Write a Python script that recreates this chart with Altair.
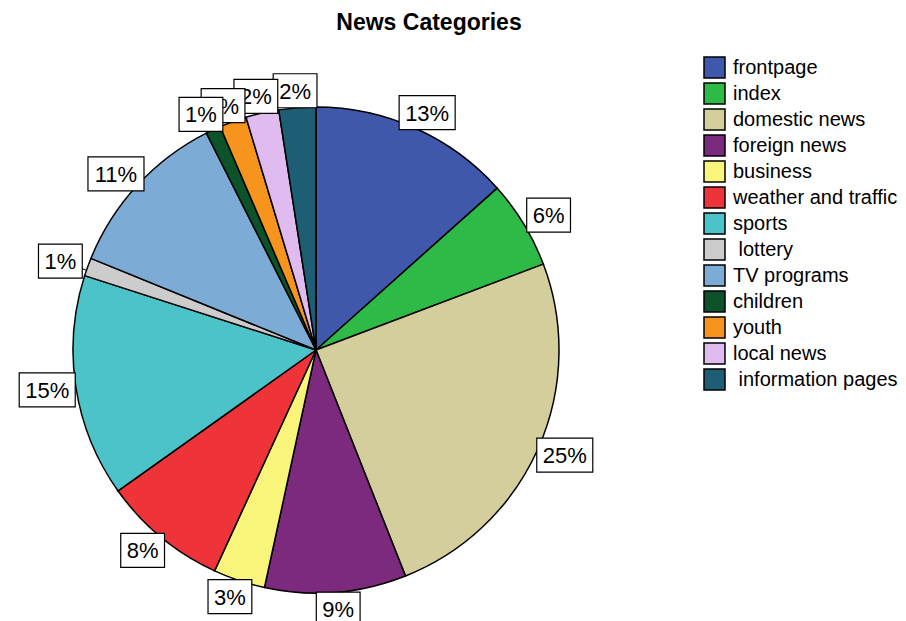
import altair as alt
import pandas as pd

categories = ["frontpage", "index", "domestic news", "foreign news", "business",
              "weather and traffic", "sports", "\u200b\u00a0lottery", "TV programs",
              "children", "youth", "local news", "\u200b\u00a0information pages"]
shares = [13.4, 5.85, 24.75, 9.4, 3.45, 8.3, 14.8, 1.2, 11.4, 1.0, 1.8, 2.2, 2.45]
colors = ["#3F58AC", "#2EBA47", "#D3CE9B", "#7C2A7D", "#F9F57A", "#EF3439",
          "#4BC3C8", "#CCCCCC", "#7CABD6", "#0D5229", "#F7941E", "#DFBBF0", "#1E5E74"]

df = pd.DataFrame({"category": categories, "share": shares,
                   "idx": list(range(len(categories)))})

TOP = 40
CX, CY = 316, 350 - TOP
R = 243
RLX, RLY = 272, 260
FS = 22

base = (
    alt.Chart(df)
    .transform_joinaggregate(total="sum(share)")
    .transform_window(cum="sum(share)", sort=[alt.SortField("idx")], frame=[None, 0])
    .transform_calculate(
        mid="(datum.cum - datum.share / 2) / datum.total * 2 * PI",
        cx=f"{CX}",
        cy=f"{CY}",
    )
    .transform_calculate(
        lx=f"{CX} + {RLX} * sin(datum.mid)",
        ly=f"{CY} - {RLY} * cos(datum.mid)",
        label="format(datum.share / datum.total, '.0%')",
    )
    .transform_calculate(
        bw=f"{FS} * 0.556 * (length(datum.label) - 1) + {FS} * 0.889 + 12",
    )
    .transform_calculate(
        bx1="datum.lx - datum.bw / 2",
        bx2="datum.lx + datum.bw / 2",
        by1="datum.ly - 17",
        by2="datum.ly + 17",
    )
)

rules = base.mark_rule(color="black", strokeWidth=1).encode(
    x=alt.X("cx:Q", scale=None, axis=None),
    y=alt.Y("cy:Q", scale=None, axis=None),
    x2="lx:Q",
    y2="ly:Q",
)

pie = alt.Chart(df).mark_arc(outerRadius=R, stroke="black", strokeWidth=1.5).encode(
    theta=alt.Theta("share:Q", stack=True),
    order=alt.Order("idx:Q"),
    color=alt.Color(
        "category:N",
        sort=categories,
        scale=alt.Scale(domain=categories, range=colors),
        legend=alt.Legend(
            title=None, orient="none", legendX=703, legendY=56 - TOP,
            symbolType="square", symbolSize=441, symbolStrokeColor="black",
            symbolStrokeWidth=1.5, symbolOpacity=1, labelFontSize=20,
            labelFont="Liberation Sans", labelColor="black", rowPadding=-1,
            labelOffset=7, labelLimit=300,
        ),
    ),
    x=alt.value(CX),
    y=alt.value(CY),
)

layers = [rules, pie]
for cat in reversed(categories):
    sub = base.transform_filter(alt.datum.category == cat)
    box = sub.mark_rect(fill="white", stroke="black", strokeWidth=1.2).encode(
        x=alt.X("bx1:Q", scale=None, axis=None),
        x2="bx2:Q",
        y=alt.Y("by1:Q", scale=None, axis=None),
        y2="by2:Q",
    )
    txt = sub.mark_text(font="Liberation Sans", fontSize=FS, color="black",
                        align="center", baseline="middle", dy=1).encode(
        x=alt.X("lx:Q", scale=None, axis=None),
        y=alt.Y("ly:Q", scale=None, axis=None),
        text="label:N",
    )
    layers += [box, txt]

chart = (
    alt.layer(*layers)
    .properties(
        width=906,
        height=621 - TOP,
        autosize=alt.AutoSizeParams(type="none"),
        padding={"left": 0, "top": TOP, "right": 0, "bottom": 0},
        title=alt.TitleParams("News Categories", font="Liberation Sans", fontSize=23,
                              fontWeight="bold", color="black", dx=-24, offset=5),
    )
    .configure(background="white")
    .configure_view(stroke=None, strokeWidth=0)
)

chart.save("out.html", embed_options={"renderer": "svg", "actions": False})
